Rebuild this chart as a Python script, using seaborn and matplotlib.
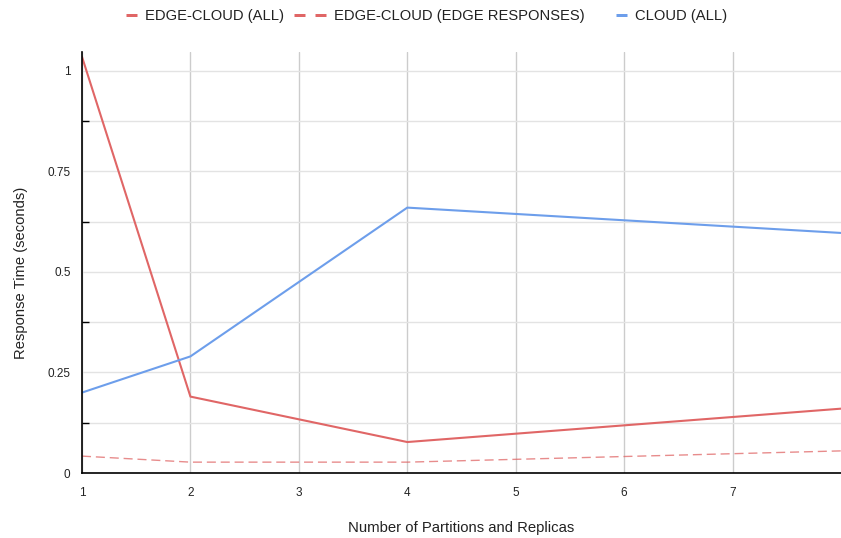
import numpy as np
import pandas as pd
import seaborn as sns
import matplotlib.pyplot as plt
from matplotlib.lines import Line2D
from matplotlib.ticker import MultipleLocator

# data
partitions = [1, 2, 4, 8]
edge_cloud_all = [1.035, 0.19, 0.077, 0.16]
edge_cloud_edge = [0.042, 0.027, 0.027, 0.055]
cloud_all = [0.20, 0.29, 0.66, 0.597]

series_names = ['EDGE-CLOUD (ALL)', 'EDGE-CLOUD (EDGE RESPONSES)', 'CLOUD (ALL)']
colors = ['#e06666', '#e06666', '#6d9eeb']

df = pd.DataFrame({
    'x': partitions * 3,
    'y': edge_cloud_all + edge_cloud_edge + cloud_all,
    'series': [series_names[0]] * 4 + [series_names[1]] * 4 + [series_names[2]] * 4,
})

sns.set_style('white')
plt.rcParams['font.family'] = ['Liberation Sans', 'DejaVu Sans']
plt.rcParams['lines.scale_dashes'] = False

fig = plt.figure(figsize=(8.41, 5.38), dpi=100)
ax = fig.add_axes([82 / 841, 65 / 538, 759 / 841, 421 / 538])

for name, col in zip(series_names, colors):
    sub = df[df.series == name]
    if 'EDGE RESPONSES' in name:
        sns.lineplot(data=sub, x='x', y='y', ax=ax, color=col, lw=1.0, alpha=0.75,
                     linestyle=(0, (6.5, 3.5)), legend=False)
    else:
        sns.lineplot(data=sub, x='x', y='y', ax=ax, color=col, lw=1.5, legend=False)

ax.set_xlim(1, 8)
ax.set_ylim(0, 1.047)
ax.set_xticks([1, 2, 3, 4, 5, 6, 7])
ax.set_xticklabels(['1', '2', '3', '4', '5', '6', '7'])
ax.set_yticks([0, 0.25, 0.5, 0.75, 1])
ax.set_yticklabels(['0', '0.25', '0.5', '0.75', '1'])
ax.yaxis.set_minor_locator(MultipleLocator(0.125))

ax.grid(True, axis='x', color='#cccccc', lw=1)
ax.grid(True, axis='y', which='both', color='#e3e3e3', lw=1)
ax.set_axisbelow(True)

for s in ['top', 'right']:
    ax.spines[s].set_visible(False)
for s in ['left', 'bottom']:
    ax.spines[s].set_color('black')
    ax.spines[s].set_linewidth(1.2)

ax.tick_params(axis='both', which='major', direction='inout', length=8.5, width=1,
               colors='black', labelsize=8.5, labelcolor='#222222')
ax.tick_params(axis='y', which='minor', direction='in', length=5, width=1, color='black', left=True)
ax.tick_params(axis='y', pad=4)
ax.tick_params(axis='x', pad=6)

ax.set_xlabel('Number of Partitions and Replicas', fontsize=10.7, color='#222222', labelpad=16)
ax.set_ylabel('Response Time (seconds)', fontsize=10.6, color='#222222')
ax.yaxis.set_label_coords(-0.0711, 0.475)

# legend handles: 32px wide boxes, short solid dash on the right, two dashes for the dashed one
px = 0.72
solid_style = (11 * px, (11 * px, 21 * px))
handles = [
    Line2D([], [], color=colors[0], lw=3 * px, linestyle=solid_style, dash_capstyle='butt'),
    Line2D([], [], color=colors[1], lw=3 * px, linestyle=(0, (11 * px, 10 * px)), dash_capstyle='butt'),
    Line2D([], [], color=colors[2], lw=3 * px, linestyle=solid_style, dash_capstyle='butt'),
]
fs = 10.6
fig.legend(handles, series_names, loc='center', bbox_to_anchor=(0.4947, 1 - 16 / 538),
           bbox_transform=fig.transFigure, ncol=3, frameon=False, fontsize=fs,
           handlelength=32 * px / fs, handletextpad=8 * px / fs, columnspacing=10 * px / fs,
           labelcolor='#222222', borderpad=0)

fig.savefig('out.png', dpi=100)
